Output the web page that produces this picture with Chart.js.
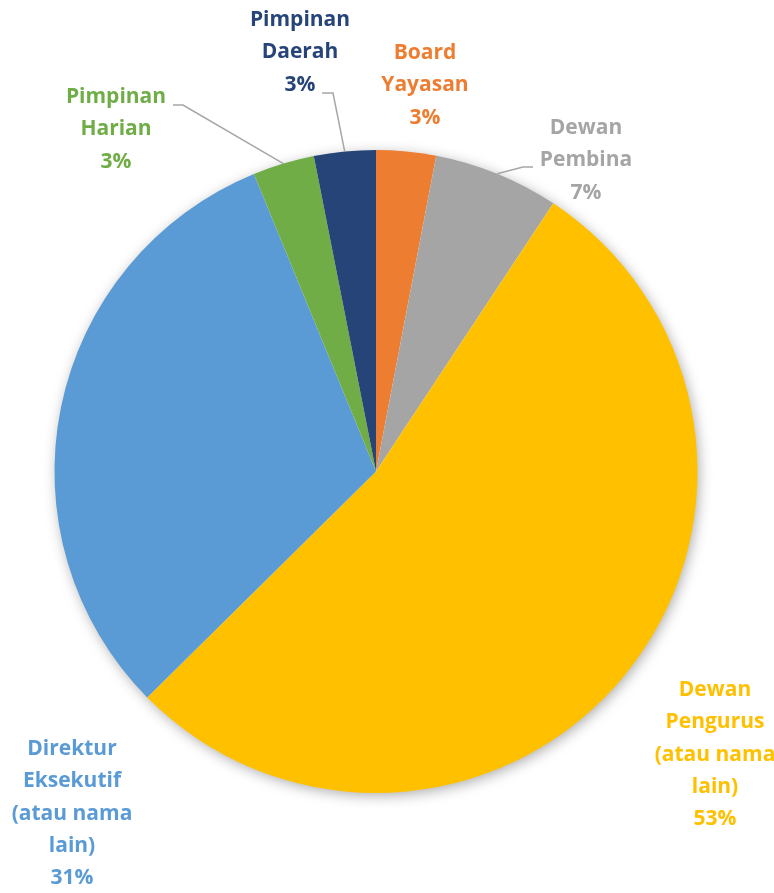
<!DOCTYPE html>
<html>
<head>
<meta charset="utf-8">
<script src="https://cdn.jsdelivr.net/npm/chart.js@4/dist/chart.umd.min.js"></script>
<style>
  html, body { margin: 0; padding: 0; background: #ffffff; }
  #wrap { width: 774px; height: 893px; position: relative; }
</style>
</head>
<body>
<div id="wrap"><canvas id="pieChart" width="774" height="893"></canvas></div>
<script>
// slices, clockwise from 12 o'clock
const categories = [
  ["Board", "Yayasan"],
  ["Dewan", "Pembina"],
  ["Dewan", "Pengurus", "(atau nama", "lain)"],
  ["Direktur", "Eksekutif", "(atau nama", "lain)"],
  ["Pimpinan", "Harian"],
  ["Pimpinan", "Daerah"]
];
const shareValues = [3.0, 6.3, 53.3, 31.2, 3.1, 3.1];
const percentLabels = ["3%", "7%", "53%", "31%", "3%", "3%"];
const sliceColors = ["#ED7D31", "#A5A5A5", "#FFC000", "#5B9BD5", "#70AD47", "#264478"];

// where each label block sits (center x, first line y) and optional leader line elbow
const labelPlacement = [
  { x: 425, y: 53 },
  { x: 586, y: 128, elbow: [533, 167, 523, 167] },
  { x: 715, y: 690 },
  { x: 72, y: 749 },
  { x: 116, y: 97, elbow: [173, 105, 183, 105] },
  { x: 300, y: 20, elbow: [322, 93, 333, 93] }
];
const lineHeight = 32.3;

const shadowPlugin = {
  id: "pieShadow",
  beforeDatasetsDraw(chart) {
    const arc = chart.getDatasetMeta(0).data[0];
    if (!arc) return;
    const ctx = chart.ctx;
    ctx.save();
    ctx.shadowColor = "rgba(0,0,0,0.35)";
    ctx.shadowBlur = 14;
    ctx.shadowOffsetX = 2;
    ctx.shadowOffsetY = 3;
    ctx.fillStyle = "#ffffff";
    ctx.beginPath();
    ctx.arc(arc.x, arc.y, arc.outerRadius - 1, 0, Math.PI * 2);
    ctx.fill();
    ctx.restore();
  }
};

const labelPlugin = {
  id: "outsideLabels",
  afterDatasetsDraw(chart) {
    const ctx = chart.ctx;
    const arcs = chart.getDatasetMeta(0).data;
    ctx.save();
    ctx.font = "bold 21px 'Open Sans'";
    ctx.textAlign = "center";
    ctx.textBaseline = "middle";

    arcs.forEach((arc, i) => {
      const place = labelPlacement[i];
      if (place.elbow) {
        const mid = (arc.startAngle + arc.endAngle) / 2;
        const ex = arc.x + Math.cos(mid) * arc.outerRadius;
        const ey = arc.y + Math.sin(mid) * arc.outerRadius;
        ctx.strokeStyle = "#A6A6A6";
        ctx.lineWidth = 1.5;
        ctx.beginPath();
        ctx.moveTo(place.elbow[0], place.elbow[1]);
        ctx.lineTo(place.elbow[2], place.elbow[3]);
        ctx.lineTo(ex, ey);
        ctx.stroke();
      }
      const lines = categories[i].concat([percentLabels[i]]);
      ctx.fillStyle = sliceColors[i];
      lines.forEach((txt, j) => {
        ctx.fillText(txt, place.x, place.y + j * lineHeight);
      });
    });
    ctx.restore();
  }
};

new Chart(document.getElementById("pieChart"), {
  type: "pie",
  data: {
    labels: categories.map((c) => c.join(" ")),
    datasets: [
      {
        data: shareValues,
        backgroundColor: sliceColors,
        borderWidth: 0
      }
    ]
  },
  options: {
    responsive: false,
    animation: false,
    layout: {
      padding: { left: 54, right: 76, top: 150, bottom: 100 }
    },
    plugins: {
      legend: { display: false },
      tooltip: { enabled: false }
    }
  },
  plugins: [shadowPlugin, labelPlugin]
});
</script>
</body>
</html>
